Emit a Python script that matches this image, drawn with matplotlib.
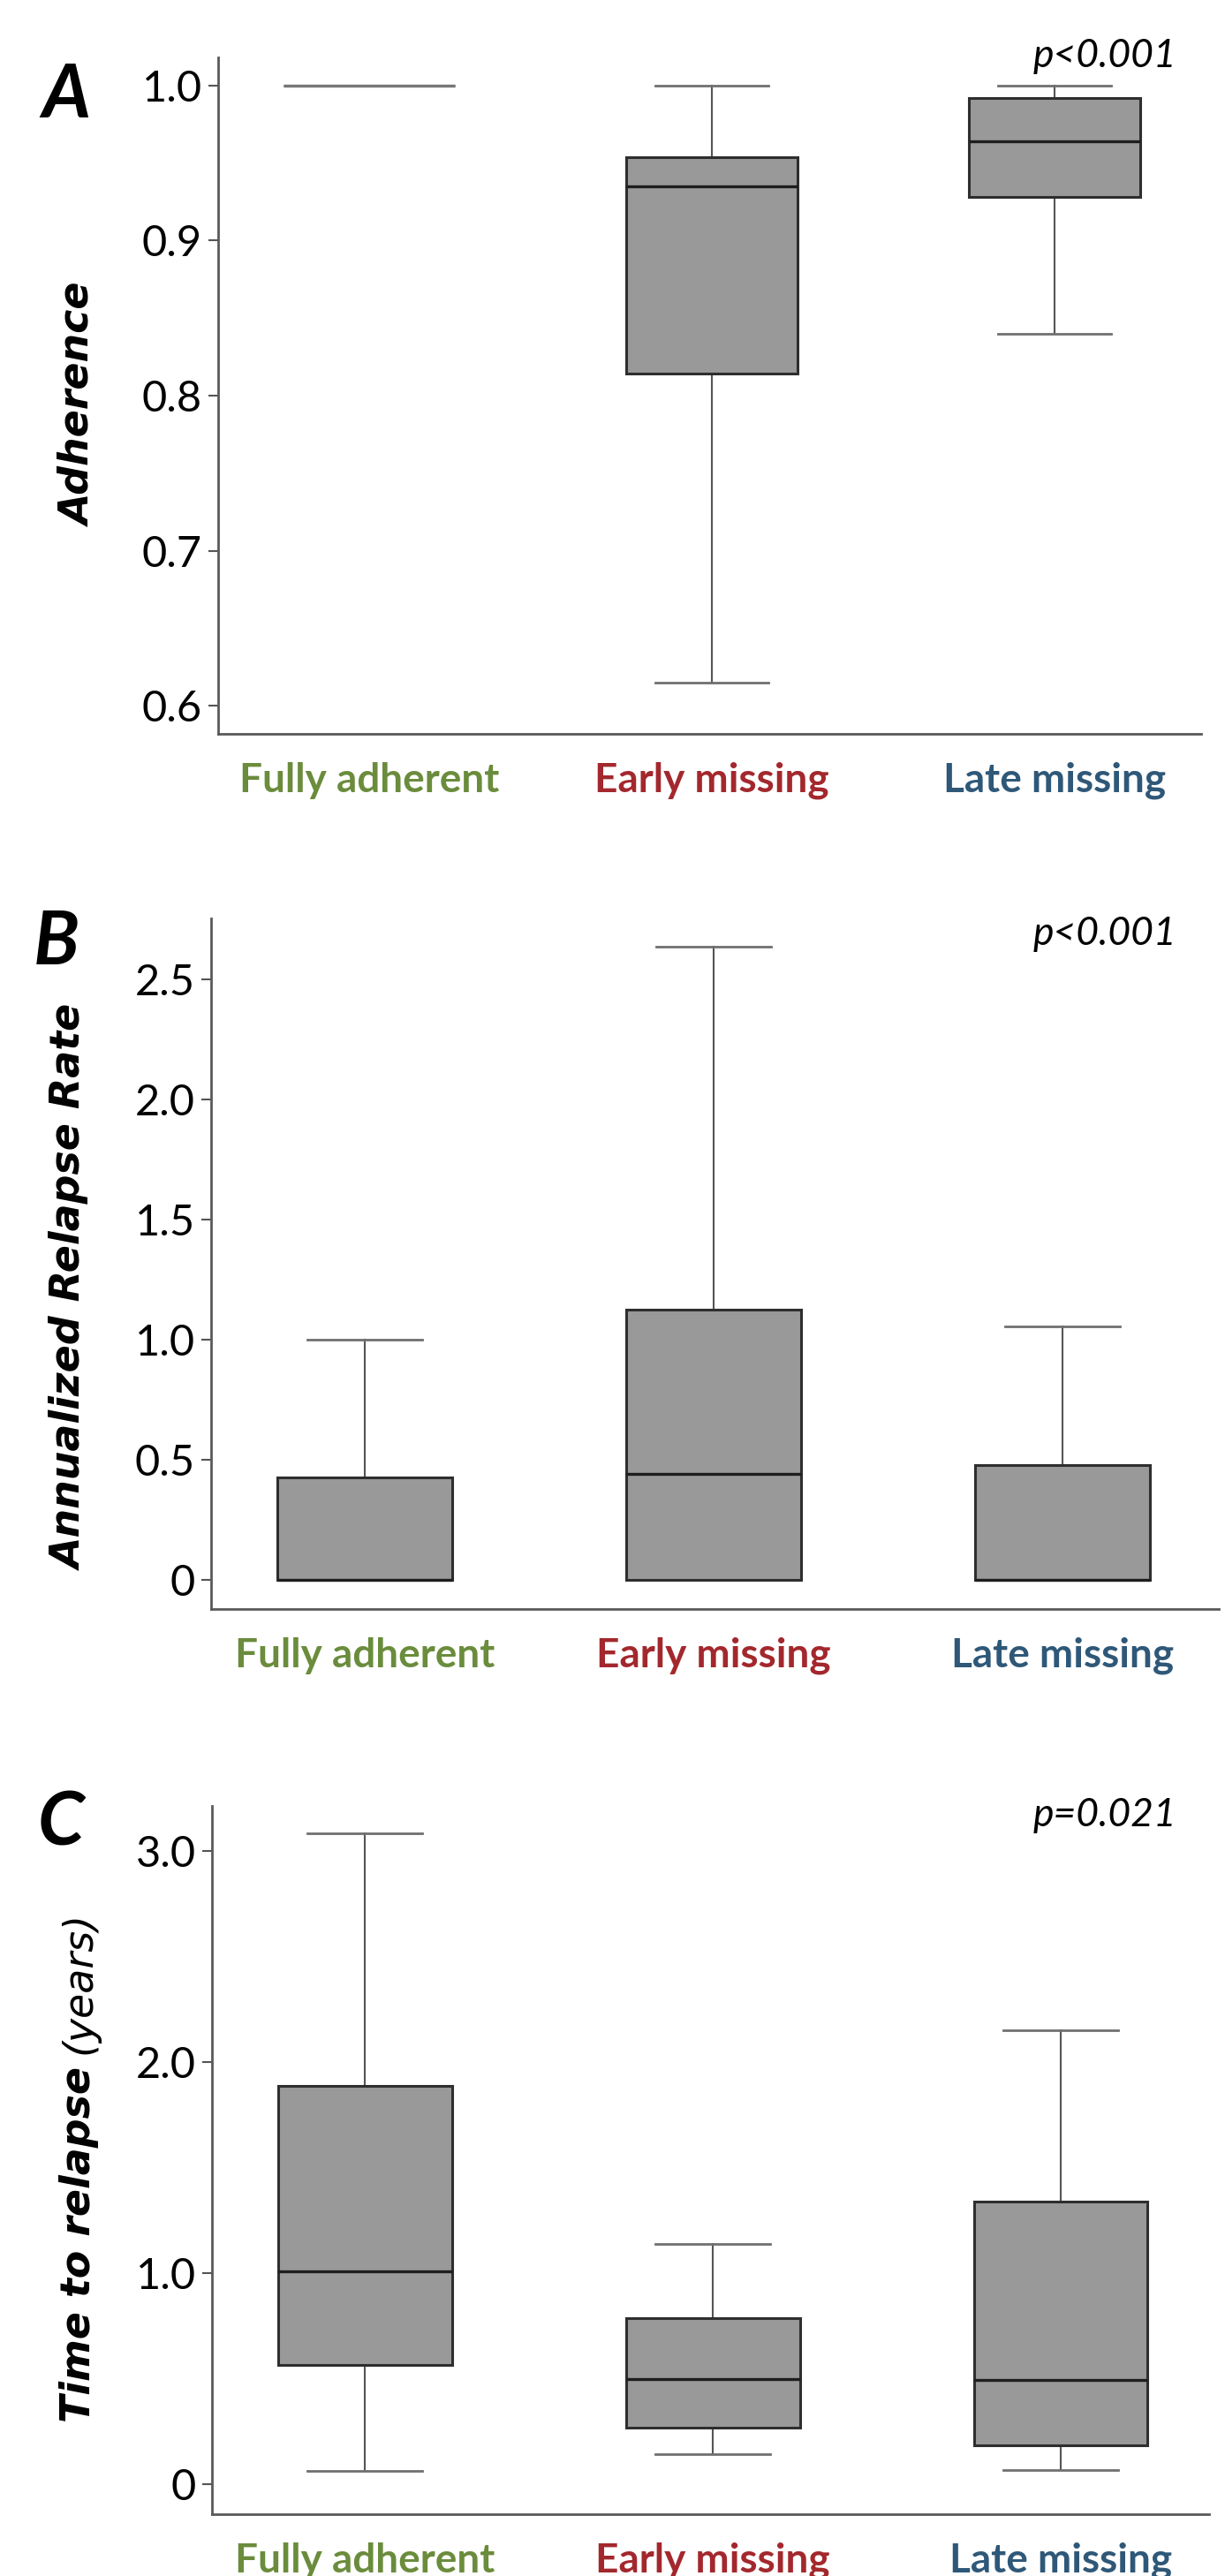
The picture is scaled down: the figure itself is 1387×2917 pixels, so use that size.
import matplotlib
matplotlib.use('Agg')
import matplotlib.pyplot as plt

# groups shared by the three panels
groups = ['Fully adherent', 'Early missing', 'Late missing']
group_colors = ['#6a8c3c', '#a3282d', '#2f5878']

# A: adherence (whisker low, Q1, median, Q3, whisker high)
adh_low = [1.0, 0.615, 0.84]
adh_q1 = [1.0, 0.8145, 0.928]
adh_med = [1.0, 0.935, 0.964]
adh_q3 = [1.0, 0.954, 0.992]
adh_high = [1.0, 1.0, 1.0]

# B: annualized relapse rate
arr_low = [0.0, 0.0, 0.0]
arr_q1 = [0.0, 0.0, 0.0]
arr_med = [0.0, 0.443, 0.0]
arr_q3 = [0.428, 1.125, 0.479]
arr_high = [1.0, 2.637, 1.056]

# C: time to relapse (years)
ttr_low = [0.061, 0.141, 0.066]
ttr_q1 = [0.566, 0.266, 0.186]
ttr_med = [1.01, 0.5, 0.492]
ttr_q3 = [1.888, 0.785, 1.34]
ttr_high = [3.085, 1.138, 2.149]

adh_ticks = [0.6, 0.7, 0.8, 0.9, 1.0]
adh_ticklabels = ['0.6', '0.7', '0.8', '0.9', '1.0']
arr_ticks = [0, 0.5, 1.0, 1.5, 2.0, 2.5]
arr_ticklabels = ['0', '0.5', '1.0', '1.5', '2.0', '2.5']
ttr_ticks = [0, 1, 2, 3]
ttr_ticklabels = ['0', '1.0', '2.0', '3.0']

p_values = ['p<0.001', 'p<0.001', 'p=0.021']
panel_letters = ['A', 'B', 'C']

W, H = 1387, 2917
fig = plt.figure(figsize=(W / 100, H / 100), dpi=100)
fig.patch.set_facecolor('white')


def fx(px):
    return px / W


def fy(py):
    return 1 - py / H


def make_stats(low, q1, med, q3, high):
    return [dict(whislo=a, q1=b, med=c, q3=d, whishi=e, fliers=[])
            for a, b, c, d, e in zip(low, q1, med, q3, high)]


def add_panel(box, xlim, ylim, stats, ticks, ticklabels):
    left, right, top, bottom = box
    ax = fig.add_axes([fx(left), fy(bottom), (right - left) / W, (bottom - top) / H])
    bp = ax.bxp(stats, positions=[1, 2, 3], widths=0.5, capwidths=0.33,
                showfliers=False, patch_artist=True,
                boxprops=dict(facecolor='#999999', edgecolor='#2e2e2e', linewidth=2.2),
                medianprops=dict(color='#1e1e1e', linewidth=2.4),
                whiskerprops=dict(color='#555555', linewidth=1.5),
                capprops=dict(color='#707070', linewidth=2.0))
    # whiskers and caps sit under the boxes
    for ln in bp['whiskers'] + bp['caps']:
        ln.set_zorder(1.5)
    # a collapsed box (all values equal) shows as a plain grey line
    for i, s in enumerate(stats):
        if s['q1'] == s['q3']:
            bp['boxes'][i].set_edgecolor('#777777')
            bp['medians'][i].set_color('#777777')
    ax.set_xlim(*xlim)
    ax.set_ylim(*ylim)
    ax.set_yticks(ticks)
    ax.set_yticklabels(ticklabels, fontfamily='Lato', fontsize=35)
    ax.set_xticks([1, 2, 3])
    ax.set_xticklabels(groups, fontfamily='Lato', fontweight='bold', fontsize=33)
    for lbl, c in zip(ax.get_xticklabels(), group_colors):
        lbl.set_color(c)
    ax.tick_params(axis='x', length=0, pad=23)
    ax.tick_params(axis='y', length=8, width=1.5, color='#555555', pad=5)
    for side in ['top', 'right']:
        ax.spines[side].set_visible(False)
    for side in ['left', 'bottom']:
        ax.spines[side].set_color('#5a5a5a')
        ax.spines[side].set_linewidth(2.0)
    ax.patch.set_alpha(0)
    return ax


ax_a = add_panel((247, 1360, 65, 831), (0.5593, 3.4278), (0.5818, 1.0182),
                 make_stats(adh_low, adh_q1, adh_med, adh_q3, adh_high),
                 adh_ticks, adh_ticklabels)
ax_b = add_panel((239, 1380, 1040, 1822), (0.5595, 3.448), (-0.121, 2.754),
                 make_stats(arr_low, arr_q1, arr_med, arr_q3, arr_high),
                 arr_ticks, arr_ticklabels)
ax_c = add_panel((240, 1369, 2045, 2847), (0.5609, 3.4264), (-0.142, 3.213),
                 make_stats(ttr_low, ttr_q1, ttr_med, ttr_q3, ttr_high),
                 ttr_ticks, ttr_ticklabels)

# p-values, top right
for p, base in zip(p_values, [76, 1070, 2068]):
    fig.text(fx(1332), fy(base), p, ha='right', va='baseline',
             fontfamily='Lato', style='italic', fontsize=32)

# panel letters
for letter, (lx, base) in zip(panel_letters, [(47, 133), (38, 1092), (43, 2089)]):
    fig.text(fx(lx), fy(base), letter, ha='left', va='baseline',
             fontfamily='Lato', style='italic', fontweight='bold', fontsize=61)

# y labels
ylab_kw = dict(rotation=90, ha='center', fontfamily='DejaVu Sans',
               style='italic', fontsize=33)
fig.text(fx(90), fy(458), 'Adherence', va='center', fontweight='bold', **ylab_kw)
fig.text(fx(80), fy(1458), 'Annualized Relapse Rate', va='center',
         fontweight='bold', **ylab_kw)

renderer = fig.canvas.get_renderer()
t1 = fig.text(fx(90), fy(2743), 'Time to relapse', va='bottom',
              fontweight='bold', **ylab_kw)
bb = t1.get_window_extent(renderer)
fig.text(fx(90), (bb.y1 + 14) / H, '(years)', va='bottom', fontweight='normal', **ylab_kw)

fig.savefig('out.png', dpi=100)
